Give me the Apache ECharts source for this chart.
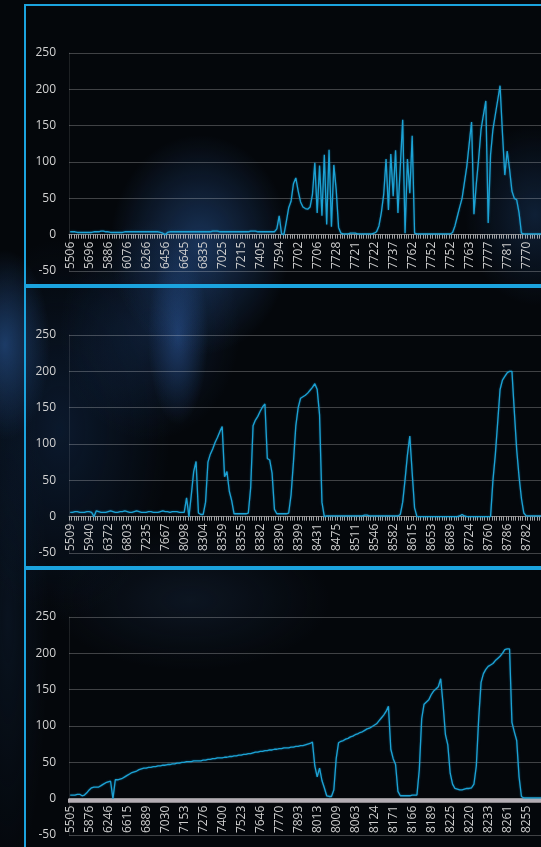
<!DOCTYPE html>
<html>
<head>
<meta charset="utf-8">
<script src="https://cdn.jsdelivr.net/npm/echarts@6/dist/echarts.min.js"></script>
<style>
  html, body { margin:0; padding:0; width:541px; height:847px; overflow:hidden; }
  body {
    background-color:#04070b;
    background-image:
      radial-gradient(ellipse 90px 110px at 200px 245px, rgba(38,80,140,0.60), rgba(38,80,140,0) 100%),
      radial-gradient(ellipse 30px 90px at 178px 335px, rgba(45,90,160,0.55), rgba(45,90,160,0) 100%),
      radial-gradient(ellipse 90px 110px at 150px 330px, rgba(25,55,100,0.45), rgba(25,55,100,0) 100%),
      radial-gradient(ellipse 45px 95px at 5px 345px, rgba(35,75,130,0.75), rgba(35,75,130,0) 100%),
      radial-gradient(ellipse 110px 190px at 60px 430px, rgba(14,34,62,0.65), rgba(14,34,62,0) 100%),
      radial-gradient(ellipse 70px 90px at 535px 215px, rgba(25,55,95,0.50), rgba(25,55,95,0) 100%),
      radial-gradient(ellipse 140px 70px at 190px 600px, rgba(22,38,60,0.45), rgba(22,38,60,0) 100%),
      radial-gradient(ellipse 40px 260px at 8px 620px, rgba(12,26,44,0.6), rgba(12,26,44,0) 100%);
  }
  .panel { position:absolute; left:24px; width:640px; height:282px; box-sizing:border-box; border:2px solid #1ba3de; }
  #chart { position:absolute; left:0; top:0; width:560px; height:847px; }
</style>
</head>
<body>
<div class="panel" style="top:4px"></div>
<div class="panel" style="top:286px"></div>
<div class="panel" style="top:568px"></div>
<div id="chart"></div>
<script>
const LABELS_1 = ['5506','5696','5886','6076','6266','6456','6645','6835','7025','7215','7405','7594','7702','7706','7728','7721','7722','7737','7762','7752','7752','7763','7777','7781','7770'];
const LABELS_2 = ['5509','5940','6372','6803','7235','7667','8098','8304','8359','8355','8382','8390','8399','8431','8475','8511','8546','8582','8615','8653','8689','8724','8760','8786','8782'];
const LABELS_3 = ['5505','5876','6246','6615','6889','7030','7153','7276','7400','7523','7646','7770','7893','8013','8009','8063','8124','8171','8166','8189','8225','8220','8233','8261','8255'];

const VALUES_1 = [
  4,4,4,3,3,3,3,3,3,3,
  4,4,4,5,5,4,4,3,3,3,
  3,3,3,4,4,4,4,4,4,4,
  4,4,4,4,4,4,4,4,3,2,
  0,3,4,4,4,4,4,4,4,4,
  4,4,4,4,4,4,4,4,4,4,
  5,5,5,4,4,4,4,4,4,4,
  4,4,4,4,4,4,5,5,5,4,
  4,4,4,4,4,4,4,8,26,1,
  0,18,37,46,70,78,60,45,38,36,
  35,38,55,99,30,95,26,110,14,117,
  11,96,62,10,2,1,1,1,2,2,
  2,1,1,1,1,1,1,1,2,4,
  12,30,55,104,34,111,53,116,30,94,
  158,2,104,57,136,2,1,1,1,1,
  1,1,1,1,1,1,1,1,1,1,
  1,3,12,25,38,50,72,94,125,155,
  28,70,105,145,165,184,16,110,145,165,
  185,205,140,82,115,90,60,50,48,30,
  2,1,1,1,1,1,1,1,1,1
];
const VALUES_2 = [
  6,6,7,7,6,6,6,7,7,6,
  0,8,7,6,6,6,7,8,7,6,
  6,7,7,8,7,6,6,7,8,7,
  6,6,6,7,7,6,6,6,7,8,
  7,7,6,7,7,7,6,6,6,26,
  0,30,62,76,5,3,3,20,75,86,
  93,102,109,117,124,55,62,35,22,4,
  4,4,4,4,4,5,40,125,133,138,
  145,151,155,80,78,60,10,4,4,4,
  4,4,5,30,75,125,150,163,165,167,
  170,174,178,183,175,140,20,0,1,1,
  1,1,1,1,1,1,1,1,1,1,
  1,1,1,1,2,2,1,1,1,1,
  1,1,1,1,1,1,1,1,1,3,
  20,51,85,111,60,12,0,0,0,0,
  0,0,0,0,0,0,0,0,0,0,
  0,0,0,0,1,3,1,0,0,0,
  0,0,0,0,0,0,0,0,50,85,
  130,175,188,193,198,200,200,145,92,55,
  25,5,1,1,1,1,1,1,1,1
];
const VALUES_3 = [
  5,5,5,6,6,4,5,8,12,15,
  16,16,16,18,20,22,23,24,0,26,
  26,27,28,30,32,34,36,37,38,40,
  41,42,42,43,43,44,44,45,45,46,
  46,47,47,48,48,49,49,50,50,51,
  51,51,52,52,52,52,53,53,54,54,
  55,55,56,56,56,57,57,58,58,59,
  59,60,60,61,61,62,62,63,64,64,
  65,65,66,66,67,67,68,68,69,69,
  70,70,70,71,71,72,72,73,73,74,
  75,76,78,45,30,42,25,15,4,3,
  3,12,55,77,79,80,82,83,85,86,
  88,89,91,92,94,96,97,99,101,103,
  107,111,115,120,127,68,55,47,10,4,
  4,4,4,4,5,5,5,40,110,130,
  133,136,143,148,151,154,165,130,88,74,
  35,20,14,13,12,12,13,14,14,15,
  20,45,110,160,172,178,182,184,186,190,
  193,196,200,205,206,206,105,92,80,30,
  3,1,1,1,1,1,1,1,1,1
];

const PER_LABEL = 8;
function buildCategories(labels) {
  const out = [];
  labels.forEach(l => { out.push(l); for (let j = 1; j < PER_LABEL; j++) out.push(''); });
  return out;
}

const Y_MIN = -50, Y_MAX = 250, GRID_H = 218;
const ZERO_OFFSET = -GRID_H * (0 - Y_MIN) / (Y_MAX - Y_MIN);

const panels = [
  { labels: LABELS_1, values: VALUES_1, top: 53, tick: 'rgba(215,215,215,0.75)', tickW: 1 },
  { labels: LABELS_2, values: VALUES_2, top: 335, tick: 'rgba(215,215,215,0.75)', tickW: 1 },
  { labels: LABELS_3, values: VALUES_3, top: 617, tick: 'rgba(200,192,198,0.9)', tickW: 3 }
];
const FONT = 'Open Sans';

const option = {
  animation: false,
  backgroundColor: 'transparent',
  grid: panels.map(p => ({ left: 69, width: 475, top: p.top, height: GRID_H, outerBoundsMode: 'none', containLabel: false })),
  xAxis: panels.map((p, i) => ({
    type: 'category',
    gridIndex: i,
    position: 'bottom',
    offset: ZERO_OFFSET,
    data: buildCategories(p.labels),
    boundaryGap: true,
    axisLine: { show: true, onZero: false, lineStyle: { color: 'rgba(190,190,190,0.55)', width: 1 } },
    axisTick: { show: true, interval: 0, length: 4, lineStyle: { color: p.tick, width: p.tickW } },
    axisLabel: { interval: PER_LABEL - 1, rotate: 90, margin: 7, color: '#cdcdcd', fontSize: 12, fontFamily: FONT },
    splitLine: { show: false }
  })),
  yAxis: panels.map((p, i) => ({
    type: 'value',
    gridIndex: i,
    min: Y_MIN, max: Y_MAX, interval: 50,
    axisLine: { show: true, lineStyle: { color: 'rgba(255,255,255,0.10)' } },
    axisTick: { show: false },
    axisLabel: { color: '#d2d2d2', fontSize: 12, margin: 13, fontFamily: FONT },
    splitLine: { show: true, lineStyle: { color: 'rgba(255,255,255,0.24)', width: 1 } }
  })),
  series: panels.map((p, i) => ({
    type: 'line',
    xAxisIndex: i,
    yAxisIndex: i,
    data: p.values,
    showSymbol: false,
    symbol: 'none',
    smooth: false,
    lineStyle: { color: '#1ca2d4', width: 1.3, shadowColor: 'rgba(30,170,230,0.5)', shadowBlur: 2 }
  }))
};

const chart = echarts.init(document.getElementById('chart'), null, { renderer: 'canvas' });
chart.setOption(option);
</script>
</body>
</html>
